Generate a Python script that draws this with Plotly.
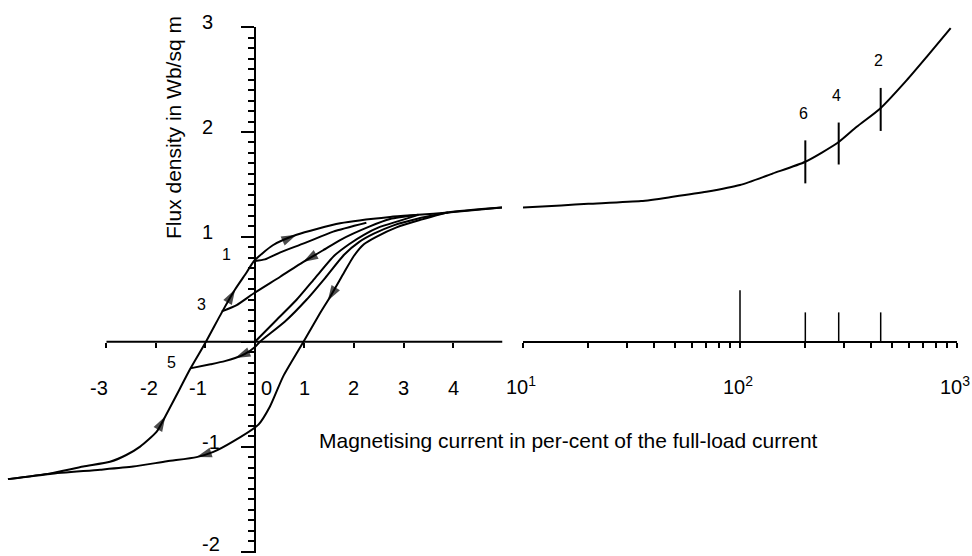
import numpy as np
import plotly.graph_objects as go

# ---------------- data ----------------
# Linear part: magnetising current (per-cent of full-load), flux density (Wb/sq m)
outer_asc_x = [-4.99, -4.14, -3.47, -2.93, -2.6, -2.32, -1.99, -1.81, -1.52, -1.31, -0.99, -0.67,
               -0.40, -0.17, -0.02, 0.36, 0.84, 1.72, 2.73, 3.3, 3.9, 4.99]
outer_asc_y = [-1.31, -1.255, -1.19, -1.145, -1.08, -1.00, -0.86, -0.71, -0.45, -0.26, 0.0, 0.28,
               0.50, 0.66, 0.77, 0.92, 1.02, 1.13, 1.19, 1.21, 1.232, 1.28]

outer_desc_x = [4.99, 3.9, 3.33, 2.86, 2.45, 2.2, 2.0, 1.8, 1.52, 1.31, 0.98, 0.57, 0.30, 0.07,
                -0.44, -0.84, -1.18, -1.78, -2.46, -3.13, -4.14, -4.99]
outer_desc_y = [1.28, 1.232, 1.16, 1.09, 1.0, 0.93, 0.82, 0.66, 0.43, 0.27, 0.0, -0.33, -0.62, -0.79,
                -0.95, -1.05, -1.10, -1.14, -1.19, -1.22, -1.26, -1.31]

loop43_x = [3.3, 2.73, 2.32, 1.72, 1.37, 0.97, 0.51, -0.03, -0.37, -0.67]
loop43_y = [1.21, 1.17, 1.10, 0.97, 0.87, 0.76, 0.62, 0.46, 0.35, 0.29]

loop21_x = [2.25, 1.58, 1.0, 0.5, 0.2, 0.0]
loop21_y = [1.135, 1.05, 0.94, 0.85, 0.785, 0.77]

loop65_x = [3.9, 3.3, 2.8, 2.4, 2.1, 1.8, 1.42, 1.04, 0.6, 0.1, 0.0, -0.2, -0.4, -0.61, -0.9, -1.31]
loop65_y = [1.232, 1.175, 1.11, 1.03, 0.95, 0.83, 0.61, 0.40, 0.19, 0.0, -0.05, -0.115, -0.155,
            -0.185, -0.215, -0.254]

virgin_x = [0.0, 0.42, 0.84, 1.2, 1.6, 1.9, 2.2, 2.5, 2.9, 3.3]
virgin_y = [0.0, 0.2, 0.40, 0.6, 0.82, 0.93, 1.02, 1.09, 1.15, 1.21]

# Logarithmic part
log_current = [10, 15, 20, 35, 49, 70, 100, 142, 200, 282, 345, 443, 587, 725, 935]
log_flux = [1.281, 1.30, 1.315, 1.341, 1.382, 1.43, 1.494, 1.605, 1.716, 1.897, 2.05, 2.225,
            2.495, 2.717, 2.99]

marker_current = [200, 285, 445]
marker_lo = [1.51, 1.69, 2.01]
marker_hi = [1.92, 2.09, 2.42]
marker_label = ["6", "4", "2"]

bar_current = [100, 200, 285, 445]
bar_top = [0.49, 0.28, 0.28, 0.28]

point_x = [-0.02, -0.67, -1.31]
point_y = [0.77, 0.29, -0.254]
point_label = ["1", "3", "5"]

# arrows: (curve, x position along it)
arrows = [("asc", -1.81), ("asc", -0.40), ("asc", 0.84), ("l43", 0.97),
          ("desc", 1.47), ("l65", -0.40), ("desc", -1.18)]

y_tick_vals = [3, 2, 1, -1, -2]
x_lin_tick_vals = [-3, -2, -1, 0, 1, 2, 3, 4]
x_log_tick_vals = [10, 100, 1000]
x_log_minor = [10, 20, 30, 40, 50, 60, 70, 80, 90, 100, 200, 300, 400, 500, 600, 700, 800, 900, 1000]

x_title = "Magnetising current in per-cent of the full-load current"
y_title = "Flux density in Wb/sq m"

# ---------------- geometry ----------------
W, H = 972, 556
ML, MR, MT, MB = 5, 15, 27, 3
PW = W - ML - MR
PH = H - MT - MB
xlin_range = [-5.05, 5.0]
d1 = (502.5 - ML) / PW
d2 = (523 - ML) / PW
ymin = 3.0 - PH / 104.9
y_range = [ymin, 3.001]
p0 = (0 - y_range[0]) / (y_range[1] - y_range[0])
py = d1 * (0 - xlin_range[0]) / (xlin_range[1] - xlin_range[0])

FONT = "Liberation Sans, Arial, Helvetica, sans-serif"
tickfont = dict(family=FONT, size=20, color="black")
lblfont = dict(family=FONT, size=16, color="black")

curves = {
    "asc": (outer_asc_x, outer_asc_y),
    "desc": (outer_desc_x, outer_desc_y),
    "l43": (loop43_x, loop43_y),
    "l21": (loop21_x, loop21_y),
    "l65": (loop65_x, loop65_y),
    "virgin": (virgin_x, virgin_y),
}

fig = go.Figure()
line = dict(color="black", width=2, shape="spline", smoothing=0.6)
for key, (xs, ys) in curves.items():
    fig.add_trace(go.Scatter(x=xs, y=ys, mode="lines", line=line, xaxis="x", yaxis="y",
                             hoverinfo="skip", showlegend=False))

# arrow heads
for key, xa in arrows:
    xs, ys = curves[key]
    for i in range(len(xs) - 1):
        a, b = xs[i], xs[i + 1]
        if min(a, b) <= xa <= max(a, b) and a != b:
            t = (xa - a) / (b - a)
            ya = ys[i] + t * (ys[i + 1] - ys[i])
            fig.add_trace(go.Scatter(
                x=[xs[i], xa], y=[ys[i], ya], mode="markers",
                marker=dict(symbol="arrow", size=[0, 16], color="black", angleref="previous",
                            line=dict(width=0)),
                xaxis="x", yaxis="y", hoverinfo="skip", showlegend=False))
            break

# log-part curve
fig.add_trace(go.Scatter(x=log_current, y=log_flux, mode="lines", line=line, xaxis="x2", yaxis="y",
                         hoverinfo="skip", showlegend=False))

# marker bars on the curve
mx, my = [], []
for c, lo, hi in zip(marker_current, marker_lo, marker_hi):
    mx += [c, c, None]
    my += [lo, hi, None]
fig.add_trace(go.Scatter(x=mx, y=my, mode="lines", line=dict(color="black", width=2),
                         xaxis="x2", yaxis="y", hoverinfo="skip", showlegend=False))

# bars rising from the axis
bx, byy = [], []
for c, top in zip(bar_current, bar_top):
    bx += [c, c, None]
    byy += [0, top, None]
fig.add_trace(go.Scatter(x=bx, y=byy, mode="lines", line=dict(color="black", width=1.5),
                         xaxis="x2", yaxis="y", hoverinfo="skip", showlegend=False))

annotations = []
for v in y_tick_vals:
    annotations.append(dict(x=0, y=v, xref="x", yref="y", text=str(v), showarrow=False,
                            xanchor="right", yanchor="middle", xshift=-40 if v > 0 else -33,
                            yshift=5 if v > -2 else 8, font=tickfont))
for v in x_lin_tick_vals:
    if v < 0:
        xa, xs_ = "right", 4
    elif v == 0:
        xa, xs_ = "center", 12
    else:
        xa, xs_ = "center", 0
    annotations.append(dict(x=v, y=0, xref="x", yref="y", text=str(v), showarrow=False,
                            xanchor=xa, yanchor="middle", xshift=xs_, yshift=-46, font=tickfont))
for v in x_log_tick_vals:
    n = int(round(np.log10(v)))
    annotations.append(dict(x=np.log10(v), y=0, xref="x2", yref="y",
                            text="10<sup>%d</sup>" % n, showarrow=False,
                            xanchor="center", yanchor="middle", xshift=-2, yshift=-44,
                            font=tickfont))
for c, hi, lab in zip(marker_current, marker_hi, marker_label):
    annotations.append(dict(x=np.log10(c), y=hi, xref="x2", yref="y", text=lab, showarrow=False,
                            xanchor="center", yanchor="middle", xshift=-2, yshift=27,
                            font=lblfont))
pt_shift = [(-28, 6), (-20, 7), (-19, 6)]
for (px_, py_), lab, (sx, sy) in zip(zip(point_x, point_y), point_label, pt_shift):
    annotations.append(dict(x=px_, y=py_, xref="x", yref="y", text=lab, showarrow=False,
                            xanchor="center", yanchor="middle", xshift=sx, yshift=sy,
                            font=lblfont))
annotations.append(dict(x=(568 - ML) / PW, y=(H - MB - 440) / PH, xref="paper", yref="paper",
                        text=x_title, showarrow=False, xanchor="center", yanchor="middle",
                        font=dict(family=FONT, size=21, color="black")))
annotations.append(dict(x=(173 - ML) / PW, y=(H - MB - 128) / PH, xref="paper", yref="paper",
                        text=y_title, showarrow=False, xanchor="center", yanchor="middle",
                        textangle=-90, font=dict(family=FONT, size=21, color="black")))

fig.update_layout(
    width=W, height=H,
    margin=dict(l=ML, r=MR, t=MT, b=MB),
    paper_bgcolor="white", plot_bgcolor="white",
    showlegend=False,
    xaxis=dict(domain=[0, d1], range=xlin_range, anchor="free", position=p0,
               showline=False, showgrid=False, zeroline=False,
               ticks="outside", tickmode="array", tickvals=x_lin_tick_vals, ticklen=5,
               tickwidth=1.5, tickcolor="black", showticklabels=False),
    xaxis2=dict(domain=[d2, 1], type="log", range=[1, 3.0], anchor="free", position=p0,
                showline=True, linecolor="black", linewidth=2, showgrid=False, zeroline=False,
                ticks="outside", tickmode="array", tickvals=x_log_minor, ticklen=5,
                tickwidth=1.5, tickcolor="black", showticklabels=False),
    yaxis=dict(domain=[0, 1], range=y_range, anchor="free", position=py,
               showline=True, linecolor="black", linewidth=2, showgrid=False, zeroline=False,
               ticks="outside", tickmode="linear", tick0=0, dtick=1, ticklen=13,
               tickwidth=1.5, tickcolor="black", showticklabels=False,
               minor=dict(ticks="outside", tickmode="linear", tick0=0, dtick=0.1, ticklen=6,
                          tickwidth=1.5, tickcolor="black", showgrid=False)),
    shapes=[dict(type="line", xref="x", yref="y", x0=-3, x1=5, y0=0, y1=0,
                 line=dict(color="black", width=2))],
    annotations=annotations,
)

fig.write_html("out.html", config={"displayModeBar": False},
               post_script="document.body.style.margin='0px';document.body.style.overflow='hidden';")
